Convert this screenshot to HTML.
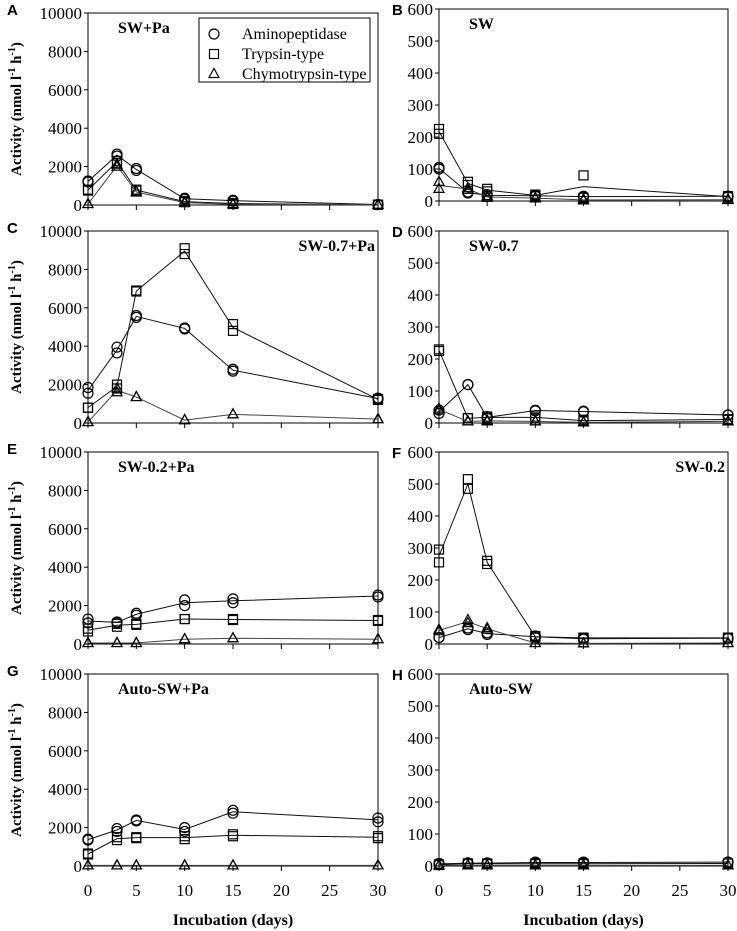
<!DOCTYPE html>
<html><head><meta charset="utf-8"><style>
html,body{margin:0;padding:0;background:#fff;width:737px;height:931px;overflow:hidden}
svg{display:block}
text{font-family:"Liberation Serif",serif;fill:#000}
</style></head><body>
<svg id="fig" width="737" height="931" viewBox="0 0 737 931" xmlns="http://www.w3.org/2000/svg"></svg>
<script>
const days = [0, 3, 5, 10, 15, 30];
const xTicks = [0, 5, 10, 15, 20, 25, 30];
const leftYTicks = [0, 2000, 4000, 6000, 8000, 10000];
const rightYTicks = [0, 100, 200, 300, 400, 500, 600];
const panelIds = ["A","B","C","D","E","F","G","H"];
const panelTitles = ["SW+Pa","SW","SW-0.7+Pa","SW-0.7","SW-0.2+Pa","SW-0.2","Auto-SW+Pa","Auto-SW"];
const seriesNames = ["Aminopeptidase","Trypsin-type","Chymotrypsin-type"];
// replicate values [rep1, rep2] per day
const aminoA=[[1250,1200],[2650,2550],[1900,1800],[350,300],[250,200],[30,20]];
const trypA=[[800,750],[2300,2200],[800,750],[200,150],[100,50],[20,10]];
const chymoA=[[50,50],[2100,2000],[700,650],[150,100],[50,30],[10,10]];
const aminoB=[[105,100],[28,25],[20,15],[18,15],[15,12],[15,15]];
const trypB=[[225,210],[60,50],[38,30],[20,15],[80,10],[15,12]];
const chymoB=[[60,38],[40,35],[15,10],[10,8],[5,2],[5,3]];
const aminoC=[[1850,1550],[3950,3650],[5600,5500],[4950,4900],[2800,2700],[1300,1250]];
const trypC=[[800,800],[2000,1800],[6900,6850],[9100,8800],[5150,4800],[1250,1200]];
const chymoC=[[50,50],[1800,1600],[1350,1350],[150,150],[450,450],[200,200]];
const aminoD=[[40,30],[120,120],[20,15],[40,38],[37,35],[25,25]];
const trypD=[[230,225],[15,15],[20,15],[20,15],[10,5],[12,10]];
const chymoD=[[45,40],[5,5],[8,5],[5,5],[2,2],[5,5]];
const aminoE=[[1300,1100],[1150,1100],[1600,1500],[2300,2000],[2350,2150],[2550,2450]];
const trypE=[[800,650],[1050,900],[1050,1000],[1300,1300],[1300,1250],[1250,1200]];
const chymoE=[[50,50],[50,50],[50,50],[250,250],[300,300],[250,250]];
const aminoF=[[20,20],[50,45],[35,30],[25,20],[18,15],[18,18]];
const trypF=[[295,255],[515,485],[260,250],[25,20],[20,18],[20,18]];
const chymoF=[[45,40],[75,65],[50,45],[3,3],[2,2],[3,3]];
const aminoG=[[1400,1350],[1950,1800],[2400,2350],[2000,1800],[2900,2750],[2500,2300]];
const trypG=[[650,600],[1500,1350],[1500,1450],[1550,1400],[1650,1550],[1550,1450]];
const chymoG=[[30,30],[30,30],[30,30],[30,30],[30,30],[30,30]];
const aminoH=[[8,5],[10,8],[10,8],[12,10],[12,10],[12,12]];
const trypH=[[5,3],[8,6],[8,6],[8,6],[8,6],[8,8]];
const chymoH=[[2,2],[2,2],[2,2],[2,2],[2,2],[2,2]];

const panelData=[[aminoA,trypA,chymoA],[aminoB,trypB,chymoB],[aminoC,trypC,chymoC],[aminoD,trypD,chymoD],
[aminoE,trypE,chymoE],[aminoF,trypF,chymoF],[aminoG,trypG,chymoG],[aminoH,trypH,chymoH]];

const NS="http://www.w3.org/2000/svg";
const svg=document.getElementById('fig');
function mk(tag,attrs,parent){const e=document.createElementNS(NS,tag);for(const k in attrs)e.setAttribute(k,attrs[k]);(parent||svg).appendChild(e);return e;}

const rowGeom=[[13,205],[231,423],[452,644],[674,866]];
const rowGeomR=[[9,201],[231,423],[452,644],[674,866]];
const colX=[[88,378],[439,728]];

function marker(g,type,x,y){
  let m;
  if(type===0){m=mk('circle',{cx:x,cy:y,r:5,fill:'none',stroke:'#000','stroke-width':1.2},g);}
  else if(type===1){m=mk('rect',{x:x-4.5,y:y-4.5,width:9,height:9,fill:'none',stroke:'#000','stroke-width':1.2},g);}
  else {m=mk('polygon',{points:`${x},${y-5.5} ${x-5},${y+3.5} ${x+5},${y+3.5}`,fill:'none',stroke:'#000','stroke-width':1.2},g);}
  return m;
}

panelIds.forEach((pid,i)=>{
  const col=i%2,row=Math.floor(i/2);
  const [top,zero]=(col?rowGeomR:rowGeom)[row];
  const [x0,x1]=colX[col];
  const ymax=col?600:10000;
  const yT=col?rightYTicks:leftYTicks;
  const xs=d=>x0+(x1-x0)*d/30;
  const ys=v=>zero-(zero-top)*v/ymax;
  const g=mk('g',{});
  
  
  const frame=mk('rect',{x:x0,y:top,width:x1-x0,height:zero-top,fill:'none',stroke:'#000','stroke-width':1},g);
  
  
  const lab=mk('text',{x:col?392:7,y:top+(col?6:2),'font-size':15,'font-weight':'bold',style:'font-family:"Liberation Sans",sans-serif'},g);
  lab.textContent=pid;
  
  
  yT.forEach(v=>{
    mk('line',{x1:x0-4,x2:x0,y1:ys(v),y2:ys(v),stroke:'#000'},g);
    const t=mk('text',{x:x0-6,y:ys(v)+6,'font-size':17,'text-anchor':'end'},g);
    t.textContent=v;
    
    
  });
  xTicks.forEach(d=>{
    mk('line',{x1:xs(d),x2:xs(d),y1:zero,y2:zero+5,stroke:'#000'},g);
    if(row===3){
      const t=mk('text',{x:xs(d),y:zero+30,'font-size':17,'text-anchor':'middle'},g);
      t.textContent=d;
      
      
    }
  });
  const rightAlign=(pid==='C'||pid==='F');
  const tt=mk('text',{x:rightAlign?x1-3:x0+30,y:top+20,'font-size':16,'font-weight':'bold','text-anchor':rightAlign?'end':'start'},g);
  tt.textContent=panelTitles[i];
  
  
  panelData[i].forEach((ser,s)=>{
    const sg=mk('g',{},g);
    
    
    const pts=ser.map((r,k)=>xs(days[k])+','+ys((r[0]+r[1])/2)).join(' ');
    const pl=mk('polyline',{points:pts,fill:'none',stroke:s===2?'#444':'#111','stroke-width':1},sg);
    
    
    ser.forEach((r,k)=>r.forEach(v=>{
      const m=marker(sg,s,xs(days[k]),ys(v));
      
      
    }));
  });
  if(col===0){
    const yt=mk('text',{x:0,y:0,'font-size':15,'font-weight':'bold','text-anchor':'middle',transform:`translate(21,${(top+zero)/2}) rotate(-90)`},g);
    yt.innerHTML='Activity (nmol l<tspan dy="-6" font-size="10">-1</tspan><tspan dy="6"> h</tspan><tspan dy="-6" font-size="10">-1</tspan><tspan dy="6">)</tspan>';
    
    
  }
  if(row===3){
    const xt=mk('text',{x:(x0+x1)/2,y:925,'font-size':16,'font-weight':'bold','text-anchor':'middle'},g);
    xt.textContent='Incubation (days)';
    
    
  }
});
const lg=mk('g',{});


mk('rect',{x:199,y:18,width:171,height:64,fill:'#fff',stroke:'#000'},lg);
seriesNames.forEach((n,s)=>{
  const y=34+s*20;
  const m=marker(lg,s,214,y);
  
  
  const t=mk('text',{x:242,y:y+5,'font-size':16},lg);
  t.textContent=n;
  
  
});
</script>
</body></html>
